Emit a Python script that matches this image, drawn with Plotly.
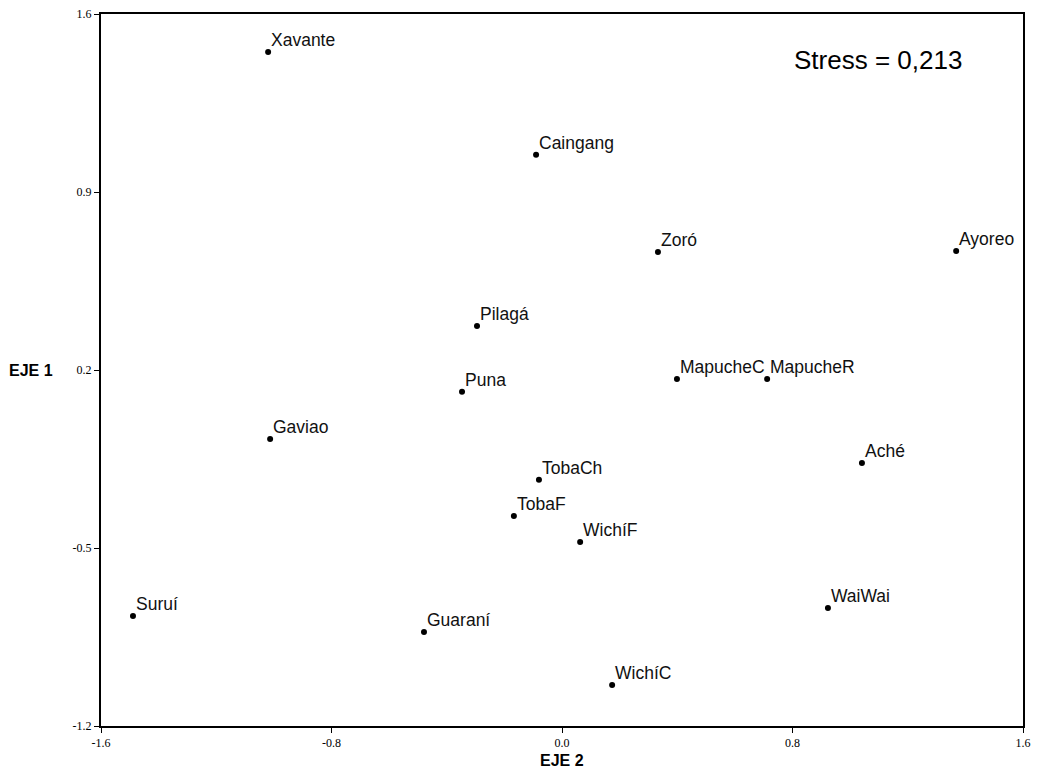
import plotly.graph_objects as go

names = ["Xavante", "Caingang", "Zoró", "Ayoreo", "Pilagá", "MapucheC", "MapucheR",
         "Puna", "Gaviao", "Aché", "TobaCh", "TobaF", "WichíF", "WaiWai", "Suruí",
         "Guaraní", "WichíC"]
eje2 = [-1.020, -0.090, 0.333, 1.368, -0.295, 0.399, 0.712,
        -0.347, -1.013, 1.041, -0.080, -0.167, 0.063, 0.923, -1.489,
        -0.479, 0.174]
eje1 = [1.451, 1.046, 0.664, 0.668, 0.373, 0.165, 0.165,
        0.114, -0.071, -0.166, -0.232, -0.374, -0.476, -0.736, -0.767,
        -0.830, -1.039]
xticks = [-1.6, -0.8, 0.0, 0.8, 1.6]
yticks = [1.6, 0.9, 0.2, -0.5, -1.2]

fig = go.Figure()
fig.add_trace(go.Scatter(
    x=eje2, y=eje1, mode="markers",
    marker=dict(size=6, color="black"),
    hoverinfo="text", text=names, showlegend=False,
))

annotations = []
for n, x, y in zip(names, eje2, eje1):
    annotations.append(dict(
        x=x, y=y, xref="x", yref="y", text=n, showarrow=False,
        xanchor="left", yanchor="bottom", xshift=1, yshift=0,
        font=dict(family="Liberation Sans, Arial", size=17.5, color="#111"),
    ))
annotations.append(dict(
    x=0.843, y=0.935, xref="paper", yref="paper", text="Stress = 0,213",
    showarrow=False, xanchor="center", yanchor="middle",
    font=dict(family="Liberation Sans, Arial", size=26, color="black"),
))
annotations.append(dict(
    x=-0.076, y=0.5, xref="paper", yref="paper", text="<b>EJE 1</b>",
    showarrow=False, xanchor="center", yanchor="middle",
    font=dict(family="Liberation Sans, Arial", size=16, color="black"),
))
annotations.append(dict(
    x=0.5, y=-0.048, xref="paper", yref="paper", text="<b>EJE 2</b>",
    showarrow=False, xanchor="center", yanchor="middle",
    font=dict(family="Liberation Sans, Arial", size=16, color="black"),
))

axis_common = dict(
    showgrid=False, zeroline=False, showline=True, linecolor="black", linewidth=2,
    mirror=True, ticks="outside", ticklen=5, tickcolor="black", tickwidth=1,
    automargin=False, ticklabeloverflow="allow",
    tickfont=dict(family="Liberation Serif, Times New Roman", size=12, color="black"),
)
fig.update_layout(
    width=1040, height=774,
    paper_bgcolor="white", plot_bgcolor="white",
    margin=dict(l=93, r=25, t=6, b=56),
    xaxis=dict(range=[-1.6, 1.6], tickvals=xticks,
               ticktext=[f"{v:.1f}" for v in xticks], **axis_common),
    yaxis=dict(range=[-1.2, 1.6], tickvals=yticks,
               ticktext=[f"{v:.1f}" for v in yticks], **axis_common),
    annotations=annotations,
)
fig.write_html("out.html")
